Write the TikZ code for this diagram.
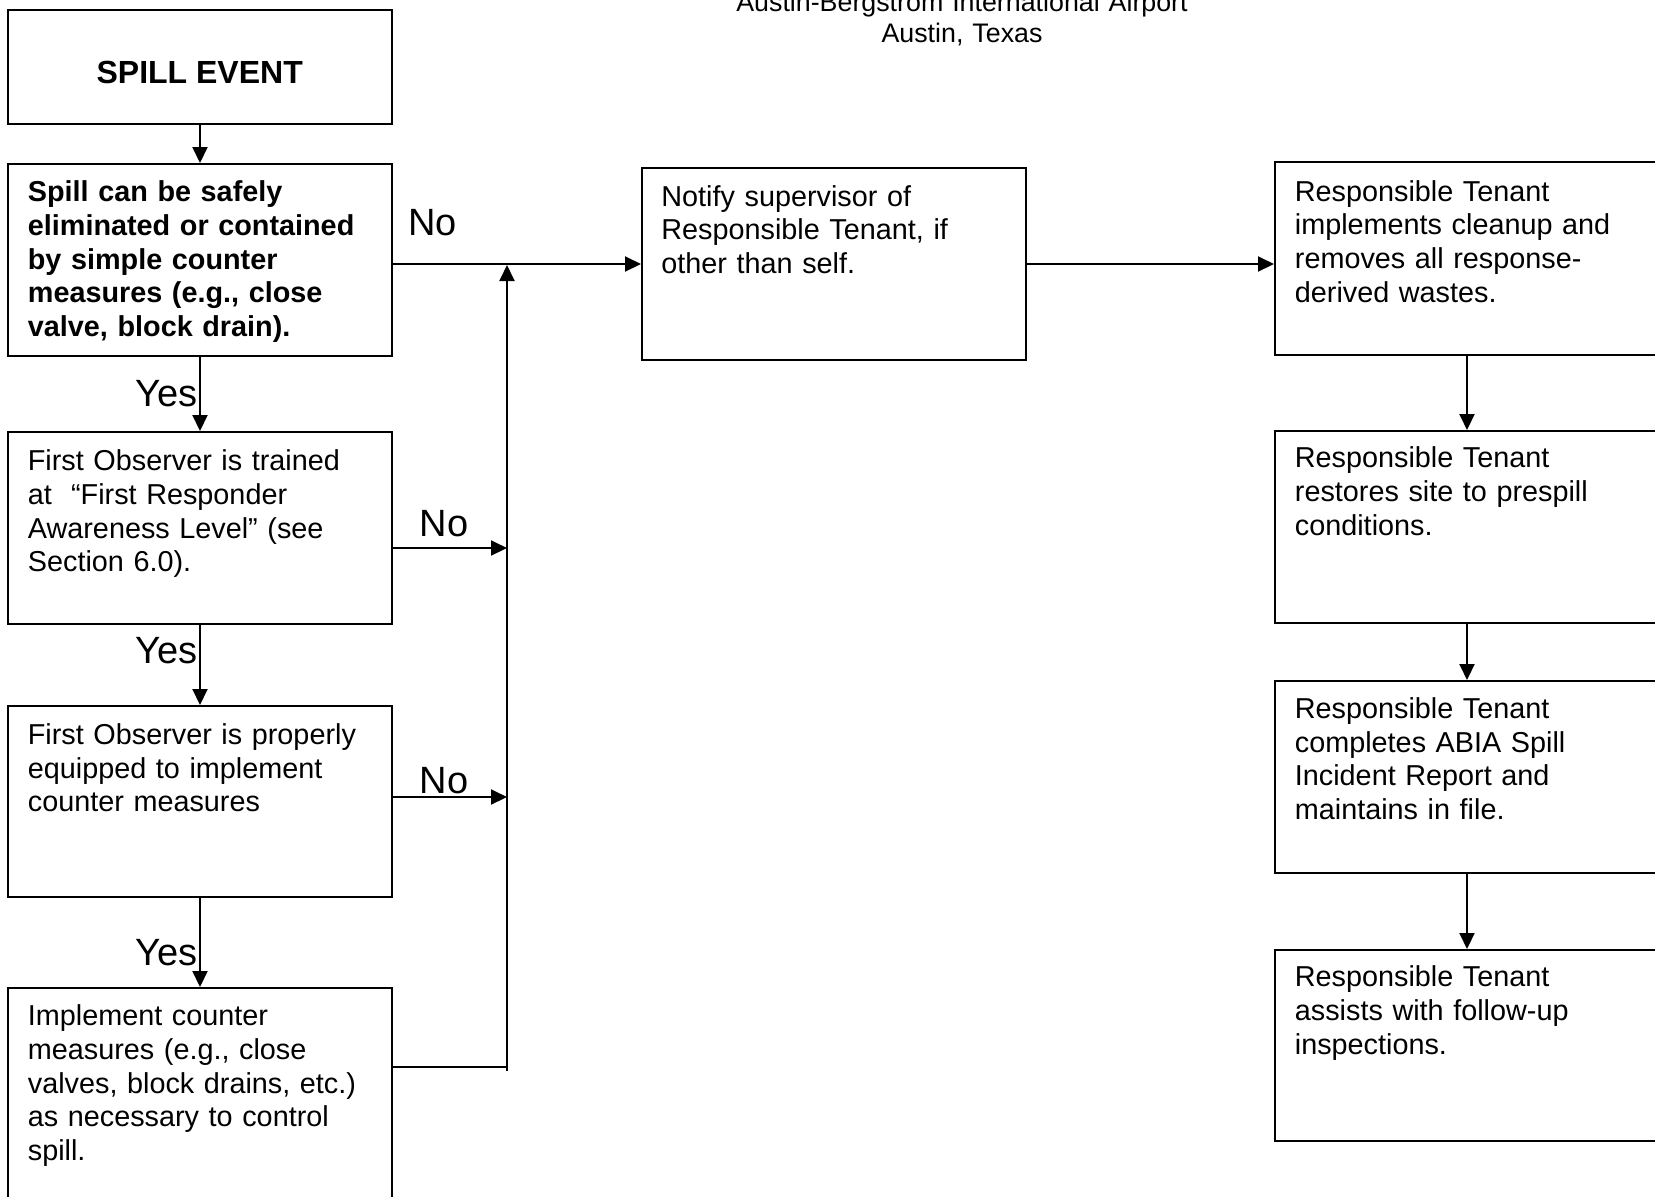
\documentclass[tikz,border=0pt]{standalone}
\usepackage{fontspec}
\setmainfont{Liberation Sans}
\usetikzlibrary{arrows.meta}
\tikzset{
  box/.style={draw, line width=1pt, rectangle, minimum width=192pt, inner sep=0pt},
  txt/.style={anchor=base west, inner sep=0pt, text width=185pt, align=left,
              font=\fontsize{14.4}{16.85}\selectfont},
  btxt/.style={txt, font=\fontsize{14.4}{16.85}\selectfont\bfseries},
  lbl/.style={inner sep=0pt, font=\fontsize{19}{22}\selectfont},
  arr/.style={line width=1pt, -{Triangle[length=8pt,width=7.5pt]}},
  ln/.style={line width=1pt},
}
\begin{document}
\begin{tikzpicture}[x=0.5pt,y=-0.5pt]
\path[use as bounding box] (0,0) rectangle (1655,1196);
\clip (0,0) rectangle (1655,1196);
\fill[white] (0,0) rectangle (1655,1196);

% title
\node[inner sep=0pt, anchor=base, text width=300pt, align=center,
      font=\fontsize{13.4}{15.2}\selectfont] (title) at (962,11.6)
  {Austin-Bergstrom International Airport\\Austin, Texas};

% left column boxes
\node[box, minimum height=57pt] (b1) at (200,67) {};
\node[inner sep=0pt, anchor=base, font=\fontsize{16}{19}\selectfont\bfseries] (b1t) at (199.7,83.3) {SPILL EVENT};

\node[box, minimum height=96pt] (b2) at (200,260) {};
\node[btxt] (b2t) at (27.5,201.7) {Spill can be safely\\eliminated or contained\\by simple counter\\measures (e.g., close\\valve, block drain).};

\node[box, minimum height=96pt] (b3) at (200,528) {};
\node[txt] (b3t) at (27.5,470.7) {First Observer is trained\\at\ \ “First Responder\\Awareness Level” (see\\Section 6.0).};

\node[box, minimum height=95.5pt] (b4) at (200,801.5) {};
\node[txt] (b4t) at (27.5,744.5) {First Observer is properly\\equipped to implement\\counter measures};

\node[box, minimum height=111pt] (b5) at (200,1099) {};
\node[txt] (b5t) at (27.5,1025.7) {Implement counter\\measures (e.g., close\\valves, block drains, etc.)\\as necessary to control\\spill.};

% middle box
\node[box, minimum height=96pt] (nt) at (834,264) {};
\node[txt] (ntt) at (661,206) {Notify supervisor of\\Responsible Tenant, if\\other than self.};

% right column boxes
\node[box, minimum height=96.5pt] (r1) at (1467,258.5) {};
\node[txt] (r1t) at (1294.5,201) {Responsible Tenant\\implements cleanup and\\removes all response-\\derived wastes.};

\node[box, minimum height=96pt] (r2) at (1467,527) {};
\node[txt] (r2t) at (1294.5,467.7) {Responsible Tenant\\restores site to prespill\\conditions.};

\node[box, minimum height=96pt] (r3) at (1467,777) {};
\node[txt] (r3t) at (1294.5,718.5) {Responsible Tenant\\completes ABIA Spill\\Incident Report and\\maintains in file.};

\node[box, minimum height=95.5pt] (r4) at (1467,1045.5) {};
\node[txt] (r4t) at (1294.5,986.7) {Responsible Tenant\\assists with follow-up\\inspections.};

% junction coordinates
\coordinate (j3) at (507,548);
\coordinate (j4) at (507,797);
\coordinate (j5) at (507,1067);
\coordinate (jb) at (507,1071);
\coordinate (jt) at (507,265);

% vertical flow, left
\draw[arr] (b1.south) -- (b2.north);
\draw[arr] (b2.south) -- (b3.north);
\draw[arr] (b3.south) -- (b4.north);
\draw[arr] (b4.south) -- (b5.north);

% No branches
\draw[arr] (b2.east |- nt.west) -- (nt.west);
\draw[arr] (b3.east |- j3) -- (j3);
\draw[arr] (b4.east |- j4) -- (j4);
\draw[ln] (b5.east |- j5) -- (j5);
\draw[arr] (jb) -- (jt);

% to the right column
\draw[arr] (nt.east) -- (nt.east -| r1.west);
\draw[arr] (r1.south) -- (r2.north);
\draw[arr] (r2.south) -- (r3.north);
\draw[arr] (r3.south) -- (r4.north);

% labels
\node[lbl, anchor=base west] (no1) at (408,235.7) {No};
\node[lbl, anchor=base west] (no2) at (419.5,536.7) {No};
\node[lbl, anchor=base west] (no3) at (419.5,793.3) {No};
\node[lbl, anchor=base east] (yes1) at (198,406.7) {Yes};
\node[lbl, anchor=base east] (yes2) at (198,663.3) {Yes};
\node[lbl, anchor=base east] (yes3) at (198,965) {Yes};
\end{tikzpicture}
\end{document}
